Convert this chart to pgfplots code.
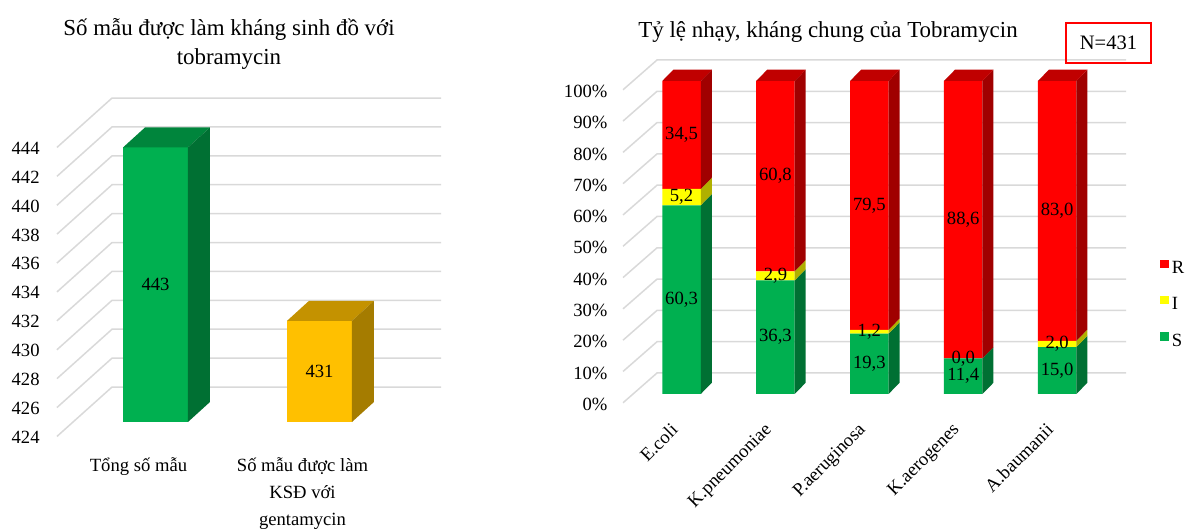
\documentclass[border=0pt]{standalone}
\usepackage{pgfplots}
\pgfplotsset{compat=1.18}
\usepackage{pgfplotstable}
\usepackage{fontspec}
\setmainfont{Liberation Serif}
\definecolor{gF}{HTML}{00B050}
\definecolor{gT}{HTML}{00853C}
\definecolor{gS}{HTML}{007033}
\definecolor{yF}{HTML}{FFC000}
\definecolor{yT}{HTML}{C49200}
\definecolor{yS}{HTML}{A57C00}
\definecolor{rF}{HTML}{FF0000}
\definecolor{rT}{HTML}{C00000}
\definecolor{rS}{HTML}{A00000}
\definecolor{iF}{HTML}{FFFF00}
\definecolor{iS}{HTML}{B0B000}
\definecolor{gridc}{HTML}{D9D9D9}
\newcommand{\lbl}{\fontsize{9.35}{13.5}\selectfont}

\pgfplotstableread{
x S I R
0 60.3 5.2 34.5
1 36.3 2.9 60.8
2 19.3 1.2 79.5
3 11.4 0.0 88.6
4 15.0 2.0 83.0
}\tobdata

\begin{document}
\begin{tikzpicture}
% ================= LEFT CHART: background =================
\begin{axis}[
  at={(24.45bp,55bp)}, anchor=south west,
  x=82bp, y=7.225bp, xmin=-0.65, xmax=1.75, ymin=424, ymax=446.5,
  enlargelimits=false, clip=false,
  axis line style={draw=none}, major tick length=0pt,
  ytick={424,426,...,444},
  /pgf/number format/assume math mode=true,
  yticklabel style={font=\lbl, anchor=east, inner sep=0pt, xshift=-4.45bp, yshift=-7.6bp},
  xtick={0,1},
  xticklabels={Tổng số mẫu,{Số mẫu được làm\\KSĐ với\\gentamycin}},
  xticklabel style={font=\lbl, align=center, anchor=north, inner sep=0pt, xshift=-8.5bp, yshift=-17.5bp},
]
\addplot[gridc, line width=0.75bp] coordinates {(-0.601,423) (-0.265,426.42) (1.741,426.42)};
\addplot[gridc, line width=0.75bp] coordinates {(-0.601,425) (-0.265,428.42) (1.741,428.42)};
\addplot[gridc, line width=0.75bp] coordinates {(-0.601,427) (-0.265,430.42) (1.741,430.42)};
\addplot[gridc, line width=0.75bp] coordinates {(-0.601,429) (-0.265,432.42) (1.741,432.42)};
\addplot[gridc, line width=0.75bp] coordinates {(-0.601,431) (-0.265,434.42) (1.741,434.42)};
\addplot[gridc, line width=0.75bp] coordinates {(-0.601,433) (-0.265,436.42) (1.741,436.42)};
\addplot[gridc, line width=0.75bp] coordinates {(-0.601,435) (-0.265,438.42) (1.741,438.42)};
\addplot[gridc, line width=0.75bp] coordinates {(-0.601,437) (-0.265,440.42) (1.741,440.42)};
\addplot[gridc, line width=0.75bp] coordinates {(-0.601,439) (-0.265,442.42) (1.741,442.42)};
\addplot[gridc, line width=0.75bp] coordinates {(-0.601,441) (-0.265,444.42) (1.741,444.42)};
\addplot[gridc, line width=0.75bp] coordinates {(-0.601,443) (-0.265,446.42) (1.741,446.42)};
\end{axis}
% ================= LEFT CHART: bars =================
\begin{axis}[
  at={(24.45bp,55bp)}, anchor=south west,
  x=82bp, y=7.225bp, xmin=-0.65, xmax=1.75, ymin=424, ymax=446.5,
  enlargelimits=false, clip=true, hide axis,
]
\addplot[ybar, bar width=32.5bp, bar shift=0pt, fill=gF, draw=none] coordinates {(0,443)};
\addplot[ybar, bar width=32.5bp, bar shift=0pt, fill=yF, draw=none] coordinates {(1,431)};
% 3D faces
\addplot[fill=gT, draw=none] coordinates {(-0.198,443) (0.198,443) (0.332,444.384) (-0.064,444.384)};
\addplot[fill=gS, draw=none] coordinates {(0.198,424) (0.332,425.384) (0.332,444.384) (0.198,443)};
\addplot[fill=yT, draw=none] coordinates {(0.802,431) (1.198,431) (1.332,432.384) (0.936,432.384)};
\addplot[fill=yS, draw=none] coordinates {(1.198,424) (1.332,425.384) (1.332,432.384) (1.198,431)};
% value labels
\addplot[draw=none, nodes near coords, point meta=explicit symbolic,
  every node near coord/.append style={font=\lbl, anchor=center, inner sep=0pt, text=black}]
  coordinates {(0,433.5) [443] (1,427.5) [431]};
\end{axis}

% ================= RIGHT CHART: background =================
\begin{axis}[
  at={(307.9bp,69bp)}, anchor=south west,
  x=46.95bp, y=1.565bp, xmin=-0.7, xmax=4.8, ymin=0, ymax=110,
  enlargelimits=false, clip=false,
  axis line style={draw=none}, major tick length=0pt,
  ytick={0,10,...,100},
  yticklabels={0\%,10\%,20\%,30\%,40\%,50\%,60\%,70\%,80\%,90\%,100\%},
  yticklabel style={font=\lbl, anchor=east, inner sep=0pt, xshift=-4bp, yshift=-5.2bp},
  xtick={0,1,2,3,4},
  xticklabels={E.coli,K.pneumoniae,P.aeruginosa,K.aerogenes,A.baumanii},
  xticklabel style={font=\lbl, rotate=45, anchor=north east, inner sep=0pt, xshift=-14bp, yshift=-5.5bp},
]
\addplot[gridc, line width=0.75bp] coordinates {(-0.623,-2.8) (-0.261,6.71) (4.734,6.71)};
\addplot[gridc, line width=0.75bp] coordinates {(-0.623,7.2) (-0.261,16.71) (4.734,16.71)};
\addplot[gridc, line width=0.75bp] coordinates {(-0.623,17.2) (-0.261,26.71) (4.734,26.71)};
\addplot[gridc, line width=0.75bp] coordinates {(-0.623,27.2) (-0.261,36.71) (4.734,36.71)};
\addplot[gridc, line width=0.75bp] coordinates {(-0.623,37.2) (-0.261,46.71) (4.734,46.71)};
\addplot[gridc, line width=0.75bp] coordinates {(-0.623,47.2) (-0.261,56.71) (4.734,56.71)};
\addplot[gridc, line width=0.75bp] coordinates {(-0.623,57.2) (-0.261,66.71) (4.734,66.71)};
\addplot[gridc, line width=0.75bp] coordinates {(-0.623,67.2) (-0.261,76.71) (4.734,76.71)};
\addplot[gridc, line width=0.75bp] coordinates {(-0.623,77.2) (-0.261,86.71) (4.734,86.71)};
\addplot[gridc, line width=0.75bp] coordinates {(-0.623,87.2) (-0.261,96.71) (4.734,96.71)};
\addplot[gridc, line width=0.75bp] coordinates {(-0.623,97.2) (-0.261,106.71) (4.734,106.71)};
\end{axis}
% ================= RIGHT CHART: stacked bars =================
\begin{axis}[
  at={(307.9bp,69bp)}, anchor=south west,
  x=46.95bp, y=1.565bp, xmin=-0.7, xmax=4.8, ymin=0, ymax=110,
  enlargelimits=false, clip=false, hide axis,
  ybar stacked, bar width=19.25bp,
  legend style={at={(1.0538,0.258)}, anchor=west, draw=none, fill=none, inner sep=0pt,
    font=\lbl, row sep=7.5bp, nodes={inner sep=1.5bp}},
  legend cell align=left,
  legend image code/.code={\fill[#1] (0bp,0.4bp) rectangle (4.2bp,4.6bp);},
  reverse legend,
]
\addplot[fill=gF, draw=none] table[x=x, y=S] {\tobdata};
\addplot[fill=iF, draw=none] table[x=x, y=I] {\tobdata};
\addplot[fill=rF, draw=none] table[x=x, y=R] {\tobdata};
\legend{S,I,R}
\end{axis}
% ================= RIGHT CHART: 3D faces and labels =================
\begin{axis}[
  at={(307.9bp,69bp)}, anchor=south west,
  x=46.95bp, y=1.565bp, xmin=-0.7, xmax=4.8, ymin=0, ymax=110,
  enlargelimits=false, clip=false, hide axis,
]
% green sides
\addplot[fill=gS, draw=none] coordinates {(0.205,0) (0.322,3.6) (0.322,63.9) (0.205,60.3)};
\addplot[fill=gS, draw=none] coordinates {(1.205,0) (1.322,3.6) (1.322,39.9) (1.205,36.3)};
\addplot[fill=gS, draw=none] coordinates {(2.205,0) (2.322,3.6) (2.322,22.9) (2.205,19.3)};
\addplot[fill=gS, draw=none] coordinates {(3.205,0) (3.322,3.6) (3.322,15.0) (3.205,11.4)};
\addplot[fill=gS, draw=none] coordinates {(4.205,0) (4.322,3.6) (4.322,18.6) (4.205,15.0)};
% yellow sides
\addplot[fill=iS, draw=none] coordinates {(0.205,60.3) (0.322,63.9) (0.322,69.1) (0.205,65.5)};
\addplot[fill=iS, draw=none] coordinates {(1.205,36.3) (1.322,39.9) (1.322,42.8) (1.205,39.2)};
\addplot[fill=iS, draw=none] coordinates {(2.205,19.3) (2.322,22.9) (2.322,24.1) (2.205,20.5)};
\addplot[fill=iS, draw=none] coordinates {(4.205,15.0) (4.322,18.6) (4.322,20.6) (4.205,17.0)};
% red sides
\addplot[fill=rS, draw=none] coordinates {(0.205,65.5) (0.322,69.1) (0.322,103.6) (0.205,100)};
\addplot[fill=rS, draw=none] coordinates {(1.205,39.2) (1.322,42.8) (1.322,103.6) (1.205,100)};
\addplot[fill=rS, draw=none] coordinates {(2.205,20.5) (2.322,24.1) (2.322,103.6) (2.205,100)};
\addplot[fill=rS, draw=none] coordinates {(3.205,11.4) (3.322,15.0) (3.322,103.6) (3.205,100)};
\addplot[fill=rS, draw=none] coordinates {(4.205,17.0) (4.322,20.6) (4.322,103.6) (4.205,100)};
% red tops
\addplot[fill=rT, draw=none] coordinates {(-0.205,100) (0.205,100) (0.322,103.6) (-0.088,103.6)};
\addplot[fill=rT, draw=none] coordinates {(0.795,100) (1.205,100) (1.322,103.6) (0.912,103.6)};
\addplot[fill=rT, draw=none] coordinates {(1.795,100) (2.205,100) (2.322,103.6) (1.912,103.6)};
\addplot[fill=rT, draw=none] coordinates {(2.795,100) (3.205,100) (3.322,103.6) (2.912,103.6)};
\addplot[fill=rT, draw=none] coordinates {(3.795,100) (4.205,100) (4.322,103.6) (3.912,103.6)};
% value labels
\addplot[draw=none, nodes near coords, point meta=explicit symbolic,
  every node near coord/.append style={font=\lbl, anchor=center, inner sep=0pt, text=black}]
  table[meta=lab] {
x y lab
0 30.15 60,3
0 62.9 5,2
0 82.75 34,5
1 18.15 36,3
1 37.75 2,9
1 69.6 60,8
2 9.65 19,3
2 19.9 1,2
2 60.25 79,5
3 5.7 11,4
3 11.4 0,0
3 55.7 88,6
4 7.5 15,0
4 16.0 2,0
4 58.5 83,0
};
\end{axis}

% ================= Titles and box =================
\node[font=\fontsize{11.5}{15}\selectfont, align=center] at (114.5bp,244bp)
  {Số mẫu được làm kháng sinh đồ với\\tobramycin};
\node[font=\fontsize{11.5}{15}\selectfont] at (414bp,250bp)
  {Tỷ lệ nhạy, kháng chung của Tobramycin};
\node[draw=rF, line width=0.6bp, font=\fontsize{10.3}{12}\selectfont, inner sep=0pt,
  minimum width=42.5bp, minimum height=20bp] at (554.25bp,244.5bp) {N=431};

\pgfresetboundingbox
\path[use as bounding box] (0,0) rectangle (596bp,266bp);
\end{tikzpicture}
\end{document}
